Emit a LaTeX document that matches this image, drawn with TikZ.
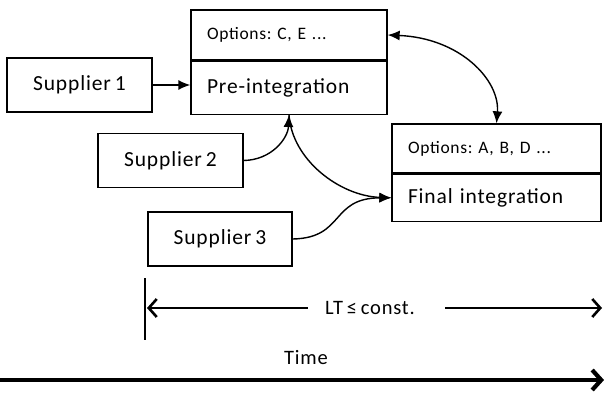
\documentclass[tikz,border=0pt]{standalone}
\usepackage{fontspec}
\setmainfont{Carlito}[LetterSpace=4, WordSpace=0.7]
\usetikzlibrary{arrows.meta}
\begin{document}
\frenchspacing
\begin{tikzpicture}[x=1pt,y=-1pt,
  box/.style={draw, line width=1.3pt, minimum width=#1, text width=#1-32pt,
    inner xsep=16pt, inner ysep=0pt, align=left, font=\fontsize{21.5}{24}\selectfont},
  optbox/.style={box=#1, font=\fontsize{17.5}{20}\selectfont},
  supbox/.style={draw, line width=1.3pt, minimum width=#1, minimum height=54pt,
    inner sep=0pt, font=\fontsize{21.5}{24}\selectfont},
  flow/.style={line width=1.4pt, -{Latex[length=12pt,width=10pt]}},
  span/.style={line width=2.6pt, {Straight Barb[length=8pt,width=18pt]}-},
  lbl/.style={inner sep=0pt, font=\fontsize{20.5}{24}\selectfont}]
\useasboundingbox (0,0) rectangle (604,393);

% pre-integration stage
\node[optbox=196pt, minimum height=50pt] (preopt) at (289,35) {Options: C, E ...};
\node[box=196pt, minimum height=53pt, anchor=north] (pre) at (preopt.south) {Pre-integration};

% final integration stage
\node[optbox=209pt, minimum height=49pt] (finopt) at (496.5,148.5) {Options: A, B, D ...};
\node[box=209pt, minimum height=47pt, anchor=north] (fin) at (finopt.south) {Final integration};

% suppliers
\node[supbox=145pt] (s1) at (79.5,85) {Supplier 1};
\node[supbox=145pt] (s2) at (170.5,160.5) {Supplier 2};
\node[supbox=144pt] (s3) at (220,239) {Supplier 3};

% material flow
\draw[flow] (s1.east) -- (s1.east -| pre.west);
\draw[flow] (s2.east) .. controls (272,160) and (288,138) .. (pre.south);
\draw[flow] (pre.south) .. controls (292,160) and (340,196) .. (fin.west);
\draw[flow] (s3.east) .. controls (345,238) and (330,198) .. (fin.west);

% option exchange between the stages
\draw[line width=1.4pt, {Latex[length=12pt,width=10pt]}-{Latex[length=12pt,width=10pt]}]
  (preopt.east) .. controls (460,38) and (500,80) .. (finopt.north);

% lead time span
\coordinate (tickTop) at (145,278);
\coordinate (tickBot) at (145,340);
\coordinate (ltL) at (147,308);
\coordinate (ltR) at (602,308);
\coordinate (ltGapL) at (308,308);
\coordinate (ltGapR) at (445,308);
\draw[line width=1.8pt] (tickTop) -- (tickBot);
\node[lbl] (lt) at (370,308) {LT ≤ const.};
\draw[span] (ltL) -- (ltGapL);
\draw[span] (ltR) -- (ltGapR);

% time axis
\coordinate (t0) at (0,380);
\coordinate (t1) at (604,380);
\node[lbl] (time) at (306,358) {Time};
\draw[line width=4.2pt, -{Straight Barb[length=9pt,width=20pt]}] (t0) -- (t1);
\end{tikzpicture}
\end{document}
